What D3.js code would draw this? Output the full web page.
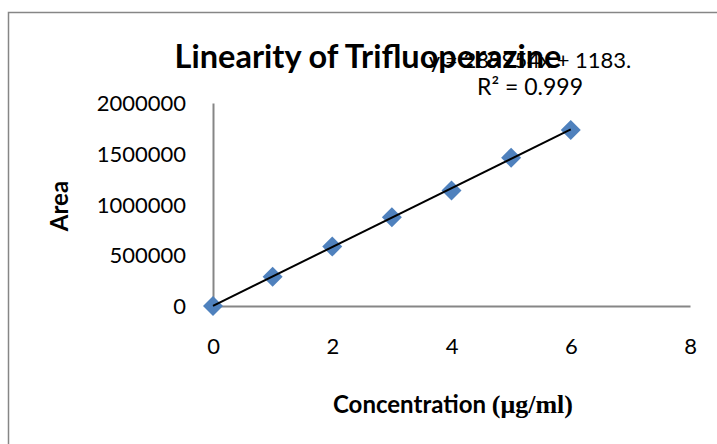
<!DOCTYPE html>
<html><head><meta charset="utf-8">
<script src="https://cdn.jsdelivr.net/npm/d3@7"></script>
<style>body{margin:0;background:#fff;} svg{display:block;}</style>
</head><body>
<svg id="c" width="717" height="444"></svg>
<script>
const concentration = [0, 1, 2, 3, 4, 5, 6];
const area = [0, 288000, 585000, 874000, 1137000, 1461000, 1735000];
const xTicks = [0, 2, 4, 6, 8];
const yTicks = [0, 500000, 1000000, 1500000, 2000000];
const slope = 289954, intercept = 1183;
const title = "Linearity of Trifluoperazine";
const eqText = "y = 289954x + 1183.";
const r2Text = "R² = 0.999";

const svg = d3.select("#c");
const font = "Lato, 'Open Sans', sans-serif";
svg.append("rect").attr("x", 8.5).attr("y", 12.5).attr("width", 760).attr("height", 500)
  .attr("fill", "#fff").attr("stroke", "#868686").attr("stroke-width", 1.5);

const x = d3.scaleLinear().domain([0, 8]).range([213, 690]);
const y = d3.scaleLinear().domain([0, 2000000]).range([306, 103]);

const xAxis = d3.axisBottom(x).tickValues(xTicks).tickSize(0).tickPadding(40).tickFormat(d3.format("d"));
const gx = svg.append("g").attr("transform", "translate(0,306)").call(xAxis);
const yAxis = d3.axisLeft(y).tickValues(yTicks).tickSize(0).tickPadding(27).tickFormat(d3.format("d"));
const gy = svg.append("g").attr("transform", "translate(213,0)").call(yAxis);
[gx, gy].forEach(g => {
  g.select(".domain").attr("stroke", "#868686").attr("stroke-width", 2);
  g.selectAll("text").attr("font-family", font).attr("font-size", 22).attr("fill", "#000");
});
gy.selectAll("text").attr("dy", "0.35em");
gx.selectAll("text").attr("dy", "0.35em");

const line = d3.line().x(d => x(d)).y(d => y(slope * d + intercept));

svg.selectAll(".pt").data(concentration).enter().append("path")
  .attr("class", "pt")
  .attr("d", d3.symbol().type(d3.symbolSquare).size(200))
  .attr("transform", (d, i) => `translate(${x(d)},${y(area[i])}) rotate(45)`)
  .attr("fill", "#4F81BD");

svg.append("path").datum([0, 6]).attr("d", line).attr("stroke", "#000").attr("stroke-width", 2).attr("fill", "none");

svg.append("text").attr("x", 368).attr("y", 68).attr("text-anchor", "middle")
  .attr("font-family", font).attr("font-weight", "bold").attr("font-size", 32.5).text(title);
svg.append("text").attr("x", 530).attr("y", 68).attr("text-anchor", "middle")
  .attr("font-family", font).attr("font-size", 22).text(eqText);
svg.append("text").attr("x", 530).attr("y", 95).attr("text-anchor", "middle")
  .attr("font-family", font).attr("font-size", 23).text(r2Text);

svg.append("text").attr("transform", "translate(68,206) rotate(-90)").attr("text-anchor", "middle")
  .attr("font-family", font).attr("font-weight", "bold").attr("font-size", 24).text("Area");

const xt = svg.append("text").attr("x", 453).attr("y", 413).attr("text-anchor", "middle")
  .attr("font-family", font).attr("font-weight", "bold").attr("font-size", 24);
xt.append("tspan").text("Concentration ");
xt.append("tspan").attr("font-family", "'Liberation Serif', 'DejaVu Serif', serif").attr("font-size", 26).text("(μg/ml)");
</script>
</body></html>
